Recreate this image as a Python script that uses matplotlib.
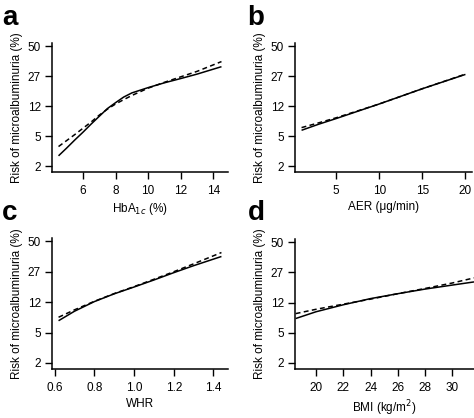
import numpy as np
import matplotlib
matplotlib.use("Agg")
import matplotlib.pyplot as plt

plt.rcParams['font.family'] = ['Liberation Sans', 'DejaVu Sans']
plt.rcParams['font.size'] = 8.5

# risk of microalbuminuria (%), solid and dashed curves per panel
hba1c = [4.5, 5, 5.5, 6, 6.5, 7, 7.5, 8, 8.5, 9, 10, 11, 12, 13, 14.5]
hba1c_solid = [2.51, 3.23, 4.19, 5.36, 6.92, 8.79, 11.1, 13.2, 15.5, 17.4, 20.1, 22.8, 25.4, 28.3, 33.6]
hba1c_dashed = [3.39, 4.11, 4.98, 6.07, 7.38, 9.11, 10.9, 12.7, 14.4, 16.2, 19.8, 23.1, 26.5, 30.2, 37.5]

aer = [1, 3, 5, 10, 15, 20]
aer_solid = [5.7, 6.9, 8.2, 12.7, 19.5, 28.1]
aer_dashed = [6.2, 7.2, 8.4, 12.7, 19.5, 28.3]

whr = [0.62, 0.7, 0.8, 0.9, 1.0, 1.1, 1.2, 1.3, 1.44]
whr_solid = [6.84, 9.11, 12.1, 15.1, 18.2, 21.9, 26.3, 31.0, 37.8]
whr_dashed = [7.6, 9.5, 12.2, 15.2, 18.4, 22.3, 26.9, 32.3, 40.9]

bmi = [18.5, 20, 22, 24, 26, 28, 30, 31.6]
bmi_solid = [7.4, 9.1, 11.2, 13.4, 15.4, 17.5, 19.5, 21.2]
bmi_dashed = [8.6, 9.8, 11.4, 13.2, 15.4, 17.8, 20.6, 23.5]

ytick_logit = [-4, -3, -2, -1, 0]
ytick_labels = ['2', '5', '12', '27', '50']

W, H = 474, 418
fig = plt.figure(figsize=(W / 100, H / 100), dpi=100)

def expit(v):
    return 1.0 / (1.0 + np.exp(-np.asarray(v, dtype=float)))

panels = [
    # letter, rect(px: left, top, right, bottom), x, solid, dashed, xlim, xticks, xticklabels, xlabel
    ('a', (52, 43, 228, 172), hba1c, hba1c_solid, hba1c_dashed, (4.1, 14.9),
     [6, 8, 10, 12, 14], ['6', '8', '10', '12', '14'], 'HbA$_{1c}$ (%)'),
    ('b', (295, 43, 472, 172), aer, aer_solid, aer_dashed, (0.24, 20.76),
     [5, 10, 15, 20], ['5', '10', '15', '20'], 'AER (\u03bcg/min)'),
    ('c', (52, 238, 228, 369), whr, whr_solid, whr_dashed, (0.587, 1.473),
     [0.6, 0.8, 1.0, 1.2, 1.4], ['0.6', '0.8', '1.0', '1.2', '1.4'], 'WHR'),
    ('d', (295, 239, 474, 369), bmi, bmi_solid, bmi_dashed, (18.45, 31.6),
     [20, 22, 24, 26, 28, 30], ['20', '22', '24', '26', '28', '30'], 'BMI (kg/m$^2$)'),
]

letter_pos = {'a': (2, 25), 'b': (247, 25), 'c': (2, 220), 'd': (248, 220)}

for letter, (l, t, r, b), x, solid, dashed, xlim, xt, xtl, xlabel in panels:
    ax = fig.add_axes([l / W, (H - b) / H, (r - l) / W, (b - t) / H])
    ax.set_yscale('logit')
    ax.plot(x, np.array(solid) / 100, color='black', lw=1.1, solid_capstyle='butt')
    ax.plot(x, np.array(dashed) / 100, color='black', lw=1.1, dashes=(3.2, 2.2))
    ax.set_xlim(*xlim)
    ax.set_ylim(expit(-4.2), expit(0.11))
    ax.set_yticks(expit(ytick_logit))
    ax.set_yticklabels(ytick_labels)
    ax.yaxis.set_minor_locator(matplotlib.ticker.NullLocator())
    ax.yaxis.set_minor_formatter(matplotlib.ticker.NullFormatter())
    ax.set_xticks(xt)
    ax.set_xticklabels(xtl)
    ax.tick_params(direction='out', length=5, width=1, pad=3, labelsize=8.5)
    ax.tick_params(axis='x', pad=4.5)
    for s in ['top', 'right']:
        ax.spines[s].set_visible(False)
    for s in ['left', 'bottom']:
        ax.spines[s].set_linewidth(1.1)
    ax.set_ylabel('Risk of microalbuminuria (%)', fontsize=8.5, labelpad=3)
    ax.set_xlabel(xlabel, fontsize=8.5, labelpad=3)
    lx, ly = letter_pos[letter]
    fig.text(lx / W, 1 - ly / H, letter, fontsize=20, fontweight='bold', va='baseline', ha='left')

fig.savefig('out.png', dpi=100)
